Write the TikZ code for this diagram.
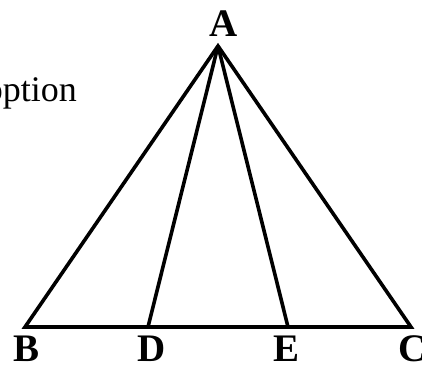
\documentclass[tikz,border=0pt]{standalone}
\usepackage{fontspec}
\setmainfont{Liberation Serif}
\begin{document}
\begin{tikzpicture}[x=1pt,y=-1pt,
  edge/.style={line width=3.6pt,line join=miter,miter limit=10,black},
  ptlabel/.style={font=\fontsize{39}{39}\selectfont\bfseries,inner sep=0pt,anchor=base},
  sidetext/.style={font=\fontsize{36}{36}\selectfont,inner sep=0pt,anchor=base east}]
\useasboundingbox (0,0) rectangle (422,370);
\coordinate (A) at (218,46);
\coordinate (B) at (25,327);
\coordinate (D) at (148,327);
\coordinate (E) at (288,327);
\coordinate (C) at (411,327);
\draw[edge] (B) -- (A) -- (C) -- cycle;
\draw[edge] (A) -- (D);
\draw[edge] (A) -- (E);
\node[ptlabel] (lA) at (224,36) {A};
\node[ptlabel] (lB) at (27,361) {B};
\node[ptlabel] (lD) at (152,361) {D};
\node[ptlabel] (lE) at (287,361) {E};
\node[ptlabel] (lC) at (413,361) {C};
\node[sidetext] (opt) at (77,101) {option};
\end{tikzpicture}
\end{document}
